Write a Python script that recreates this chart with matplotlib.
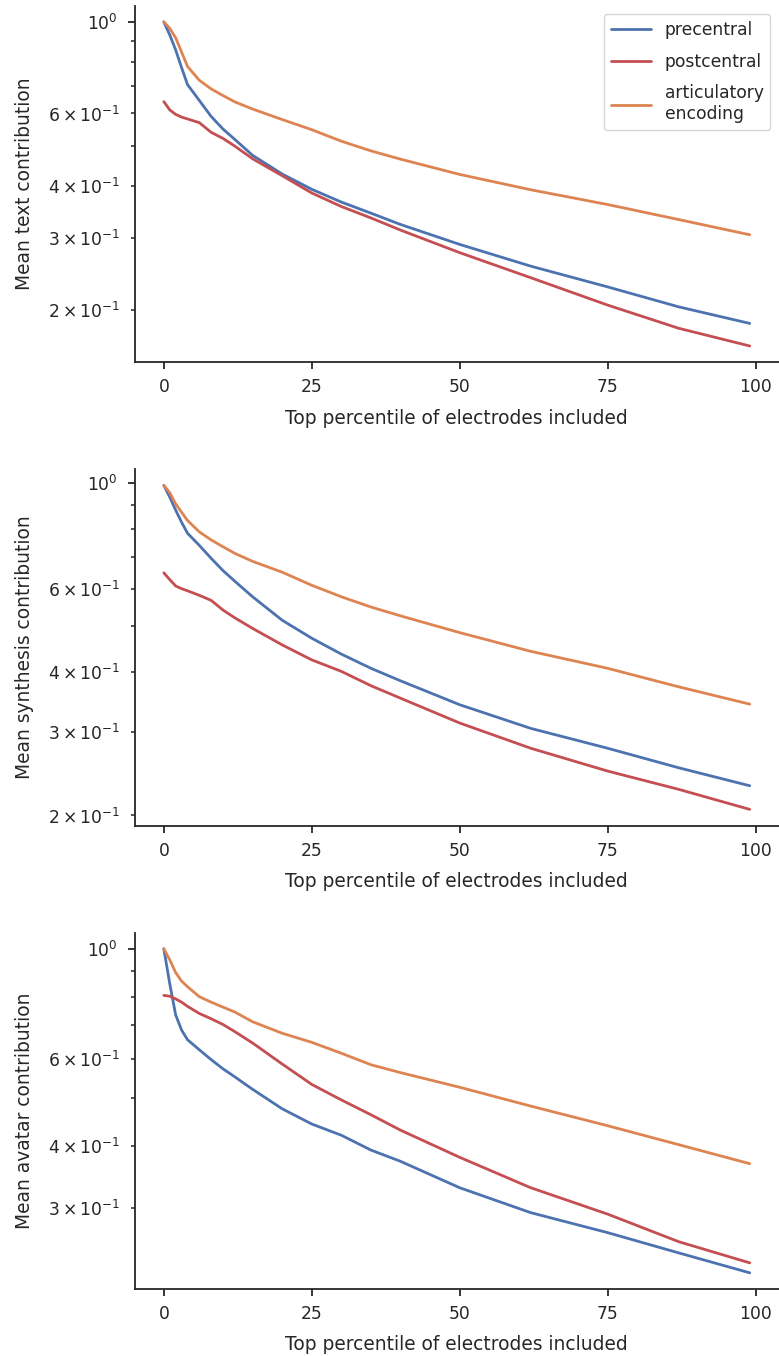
"""Mean decoder contribution vs. top percentile of electrodes (three panels)."""

import matplotlib

matplotlib.use("Agg")
import matplotlib.pyplot as plt
import seaborn as sns

# percentile of electrodes included
pct = [0, 1, 2, 3, 4, 6, 8, 10, 12, 15, 20, 25, 30, 35, 40, 50, 62, 75, 87, 99]

# text decoder
text_pre = [1.0, 0.93, 0.855, 0.775, 0.705, 0.645, 0.59, 0.55, 0.519, 0.475, 0.428,
            0.393, 0.366, 0.344, 0.323, 0.289, 0.256, 0.228, 0.204, 0.186]
text_post = [0.641, 0.612, 0.597, 0.588, 0.582, 0.57, 0.54, 0.522, 0.50, 0.466, 0.424,
             0.385, 0.357, 0.335, 0.313, 0.276, 0.24, 0.206, 0.181, 0.164]
text_art = [1.0, 0.965, 0.915, 0.845, 0.78, 0.722, 0.688, 0.663, 0.640, 0.615, 0.58,
            0.548, 0.514, 0.487, 0.465, 0.427, 0.392, 0.361, 0.332, 0.305]

# synthesis decoder
synth_pre = [0.99, 0.935, 0.878, 0.828, 0.785, 0.74, 0.695, 0.655, 0.622, 0.577, 0.515,
             0.472, 0.437, 0.408, 0.384, 0.342, 0.305, 0.277, 0.252, 0.231]
synth_post = [0.648, 0.627, 0.608, 0.600, 0.594, 0.581, 0.567, 0.541, 0.521, 0.495, 0.457,
              0.425, 0.402, 0.375, 0.353, 0.313, 0.277, 0.248, 0.227, 0.206]
synth_art = [0.99, 0.955, 0.905, 0.869, 0.835, 0.79, 0.76, 0.735, 0.712, 0.685, 0.650,
             0.610, 0.577, 0.549, 0.526, 0.485, 0.443, 0.408, 0.373, 0.343]

# avatar decoder
avatar_pre = [1.0, 0.85, 0.735, 0.685, 0.655, 0.625, 0.597, 0.572, 0.551, 0.52, 0.475,
              0.4425, 0.42, 0.392, 0.372, 0.329, 0.293, 0.267, 0.243, 0.2215]
avatar_post = [0.805, 0.802, 0.792, 0.78, 0.765, 0.74, 0.722, 0.703, 0.680, 0.645, 0.585,
               0.532, 0.495, 0.462, 0.430, 0.379, 0.329, 0.291, 0.256, 0.232]
avatar_art = [1.0, 0.95, 0.895, 0.86, 0.838, 0.80, 0.78, 0.762, 0.745, 0.712, 0.675,
              0.647, 0.615, 0.583, 0.562, 0.525, 0.481, 0.439, 0.402, 0.368]

panels = ["text", "synthesis", "avatar"]
labels = ["precentral", "postcentral", "articulatory\nencoding"]
series = [
    [text_pre, text_post, text_art],
    [synth_pre, synth_post, synth_art],
    [avatar_pre, avatar_post, avatar_art],
]

SCALE = 1.12  # reference was rendered a bit larger than notebook defaults


def main() -> None:
    sns.set_theme(style="ticks", context="notebook", font_scale=SCALE)
    plt.rcParams.update({
        "axes.linewidth": 1.3,
        "xtick.major.size": 5, "ytick.major.size": 5,
        "xtick.minor.size": 3.2, "ytick.minor.size": 3.2,
        "xtick.major.width": 1.3, "ytick.major.width": 1.3,
        "ytick.minor.width": 1.1,
        "xtick.major.pad": 6.5,
        "ytick.major.pad": 7, "ytick.minor.pad": 7,
    })
    colors = sns.color_palette("deep")
    line_colors = [colors[0], colors[3], colors[1]]

    fig, axes = plt.subplots(3, 1, figsize=(7.79, 13.56), dpi=100)
    fig.subplots_adjust(left=0.1727, right=1.0, top=0.9958, bottom=0.0494,
                        hspace=0.30)

    for ax, name, ys in zip(axes, panels, series):
        for y, lab, c in zip(ys, labels, line_colors):
            ax.plot(pct, y, color=c, lw=2.0, label=lab)
        ax.set_yscale("log")
        ax.set_xticks([0, 25, 50, 75, 100])
        ax.set_xlabel("Top percentile of electrodes included", labelpad=9)
        ax.set_ylabel(f"Mean {name} contribution", labelpad=10)
        sns.despine(ax=ax)

    axes[0].legend(loc="upper right", handlelength=2.35, labelspacing=0.8)
    fig.savefig("out.png")


if __name__ == "__main__":
    main()
